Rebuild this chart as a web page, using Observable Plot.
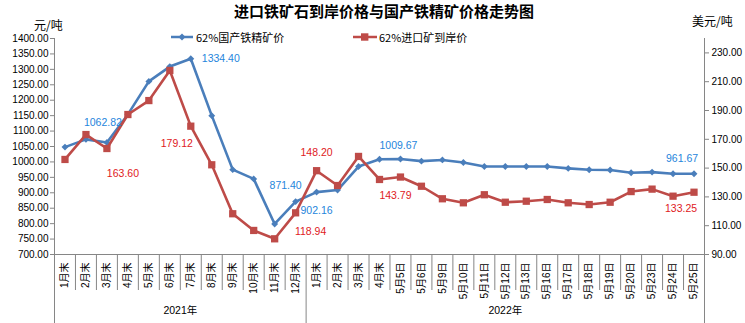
<!DOCTYPE html>
<html><head><meta charset="utf-8">
<script src="https://cdn.jsdelivr.net/npm/d3@7"></script>
<script src="https://cdn.jsdelivr.net/npm/@observablehq/plot@0.6"></script>
<style>
body{margin:0;background:#fff;}
#wrap{position:relative;width:745px;height:323px;overflow:hidden;font-family:"Noto Sans CJK SC","Noto Sans",sans-serif;color:#000;}
#wrap svg.chart{position:absolute;left:0;top:0;}
.abs{position:absolute;white-space:nowrap;line-height:1;}
.leg{position:absolute;display:flex;align-items:center;font-size:11px;line-height:1;white-space:nowrap;}
.leg svg{display:block;margin-right:2px;}
</style></head><body>
<div id="wrap">
  <div class="abs" id="title" style="left:24px;width:720px;text-align:center;top:0px;font-size:15px;line-height:normal;font-weight:bold;"></div>
  <div class="abs" id="unitL" style="left:34px;top:19px;font-size:12px;"></div>
  <div class="abs" id="unitR" style="left:692px;top:15px;font-size:12px;"></div>
  <div id="legend"></div>
</div>
<script>
// ---------- data ----------
const titleText = "进口铁矿石到岸价格与国产铁精矿价格走势图";
const unitLeft = "元/吨";
const unitRight = "美元/吨";
const seriesNames = ["62%国产铁精矿价", "62%进口矿到岸价"];
const categories = ["1月末","2月末","3月末","4月末","5月末","6月末","7月末","8月末","9月末","10月末","11月末","12月末",
  "1月末","2月末","3月末","4月末","5月5日","5月6日","5月9日","5月10日","5月11日","5月12日","5月13日","5月16日",
  "5月17日","5月18日","5月19日","5月20日","5月23日","5月24日","5月25日"];
const yearGroups = ["2021年", "2022年"];
const yearGroupSizes = [12, 19];
// 62% domestic concentrate price (元/吨, left axis)
const domesticPrice = [1048, 1073, 1062.82, 1154, 1261, 1309, 1334.40, 1150, 975, 945, 799, 871.40,
  902.16, 909, 985, 1008.5, 1009.67, 1002.5, 1006.5, 998, 985, 985, 985, 985,
  979, 974.5, 974, 965, 967, 961.5, 961.67];
// 62% import ore CIF price (美元/吨, right axis)
const importPrice = [156.0, 173.3, 163.60, 187.2, 196.9, 217.8, 179.12, 152.3, 118.3, 106.7, 100.9, 118.94,
  148.20, 137.9, 158.1, 142.1, 143.79, 137.4, 128.7, 125.9, 131.5, 126.3, 127.0, 128.2,
  125.9, 124.7, 126.3, 133.7, 135.4, 130.5, 133.25];
const leftTicks = [700,750,800,850,900,950,1000,1050,1100,1150,1200,1250,1300,1350,1400];
const rightTicks = [90,110,130,150,170,190,210,230];
const leftDomain = [700, 1400];
const rightDomain = [90, 240];
const domLabelIdx = [2, 6, 11, 12, 16, 30];
const impLabelIdx = [2, 6, 11, 12, 16, 30];

// ---------- styles ----------
const blue = "#4A7EBB", red = "#BE4B48";
const blueText = "#2585DC", redText = "#E0201C";
const axisGray = "#868686";
const domOffsets = [[-4,-20],[30,0],[-10,-16],[0,19],[-2,-13],[-12,-15]];
const impOffsets = [[16,25],[-14,17],[15,19],[0,-18],[-5,19],[-13,16]];

document.getElementById("title").textContent = titleText;
document.getElementById("unitL").textContent = unitLeft;
document.getElementById("unitR").textContent = unitRight;
const legend = document.getElementById("legend");
legend.innerHTML =
  `<div class="leg" style="left:170px;top:31px;"><svg width="24" height="12"><line x1="1" y1="6" x2="23" y2="6" stroke="${blue}" stroke-width="2.5"/><path d="M12,2.5L15.5,6L12,9.5L8.5,6Z" fill="${blue}"/></svg><span></span></div>` +
  `<div class="leg" style="left:353px;top:31px;"><svg width="24" height="12"><line x1="0" y1="6" x2="24" y2="6" stroke="${red}" stroke-width="2.5"/><rect x="8" y="2.3" width="7.4" height="7.4" fill="${red}"/></svg><span></span></div>`;
legend.querySelectorAll(".leg span").forEach((s, k) => s.textContent = seriesNames[k]);

const [L0, L1] = leftDomain, [R0, R1] = rightDomain;
const toLeft = v => L0 + (v - R0) * (L1 - L0) / (R1 - R0);
const fromLeft = d => R0 + (d - L0) * (R1 - R0) / (L1 - L0);

const rows = categories.map((c, i) => ({i, c, dom: domesticPrice[i], imp: importPrice[i], impL: toLeft(importPrice[i])}));
const n = categories.length;

// group boundaries and centers
let start = 0;
const groups = yearGroups.map((g, k) => {
  const s = start; start += yearGroupSizes[k];
  return {label: g, center: s + (yearGroupSizes[k] - 1) / 2, end: start - 0.5};
});
const longBounds = [-0.5, ...groups.map(g => g.end)];
const shortBounds = d3.range(n - 1).map(i => i + 0.5).filter(b => !longBounds.includes(b));

const font = "'Liberation Sans', Arial, 'Noto Sans CJK SC', sans-serif";

const labelMarks = [
  ...domLabelIdx.map((idx, k) => Plot.text([rows[idx]], {x: "i", y: "dom", text: d => d.dom.toFixed(2),
    dx: domOffsets[k][0], dy: domOffsets[k][1], fill: blueText, fontSize: 10.5})),
  ...impLabelIdx.map((idx, k) => Plot.text([rows[idx]], {x: "i", y: "impL", text: d => d.imp.toFixed(2),
    dx: impOffsets[k][0], dy: impOffsets[k][1], fill: redText, fontSize: 10.5}))
];

const chart = Plot.plot({
  width: 745, height: 323,
  marginLeft: 54, marginRight: 41, marginTop: 38, marginBottom: 69,
  style: {fontFamily: font, fontSize: "10px", background: "transparent", color: "#000"},
  x: {type: "linear", domain: [-0.5, n - 0.5]},
  y: {domain: leftDomain},
  marks: [
    Plot.ruleX([-0.5, n - 0.5], {stroke: axisGray}),
    Plot.ruleY([L0], {stroke: axisGray}),
    Plot.axisY(leftTicks, {anchor: "left", tickSize: 4, tickPadding: 2, stroke: axisGray, fill: "#000",
      tickFormat: d => d.toFixed(2), label: null, fontSize: 10}),
    Plot.axisY(rightTicks.map(toLeft), {anchor: "right", tickSize: 4, tickPadding: 3, stroke: axisGray, fill: "#000",
      tickFormat: d => fromLeft(d).toFixed(2), label: null, fontSize: 10}),
    Plot.axisX(d3.range(n), {anchor: "bottom", tickSize: 0, tickPadding: 8, tickRotate: -90,
      tickFormat: i => categories[i], label: null, fill: "#000", fontSize: 10}),
    Plot.axisX(shortBounds, {anchor: "bottom", tickSize: 36, stroke: axisGray, tickFormat: () => "", label: null}),
    Plot.axisX(longBounds, {anchor: "bottom", tickSize: 69, stroke: axisGray, tickFormat: () => "", label: null}),
    Plot.text(groups, {x: "center", frameAnchor: "bottom", dy: 59, text: "label", fill: "#000", fontSize: 10.5}),
    Plot.line(rows, {x: "i", y: "dom", stroke: blue, strokeWidth: 2.6}),
    Plot.dot(rows, {x: "i", y: "dom", symbol: "diamond2", r: 3.1, fill: blue, stroke: "none"}),
    Plot.line(rows, {x: "i", y: "impL", stroke: red, strokeWidth: 2.6}),
    Plot.dot(rows, {x: "i", y: "impL", symbol: "square", r: 4.1, fill: red, stroke: "none"}),
    ...labelMarks
  ]
});
chart.classList.add("chart");
document.getElementById("wrap").prepend(chart);
</script>
</body></html>
